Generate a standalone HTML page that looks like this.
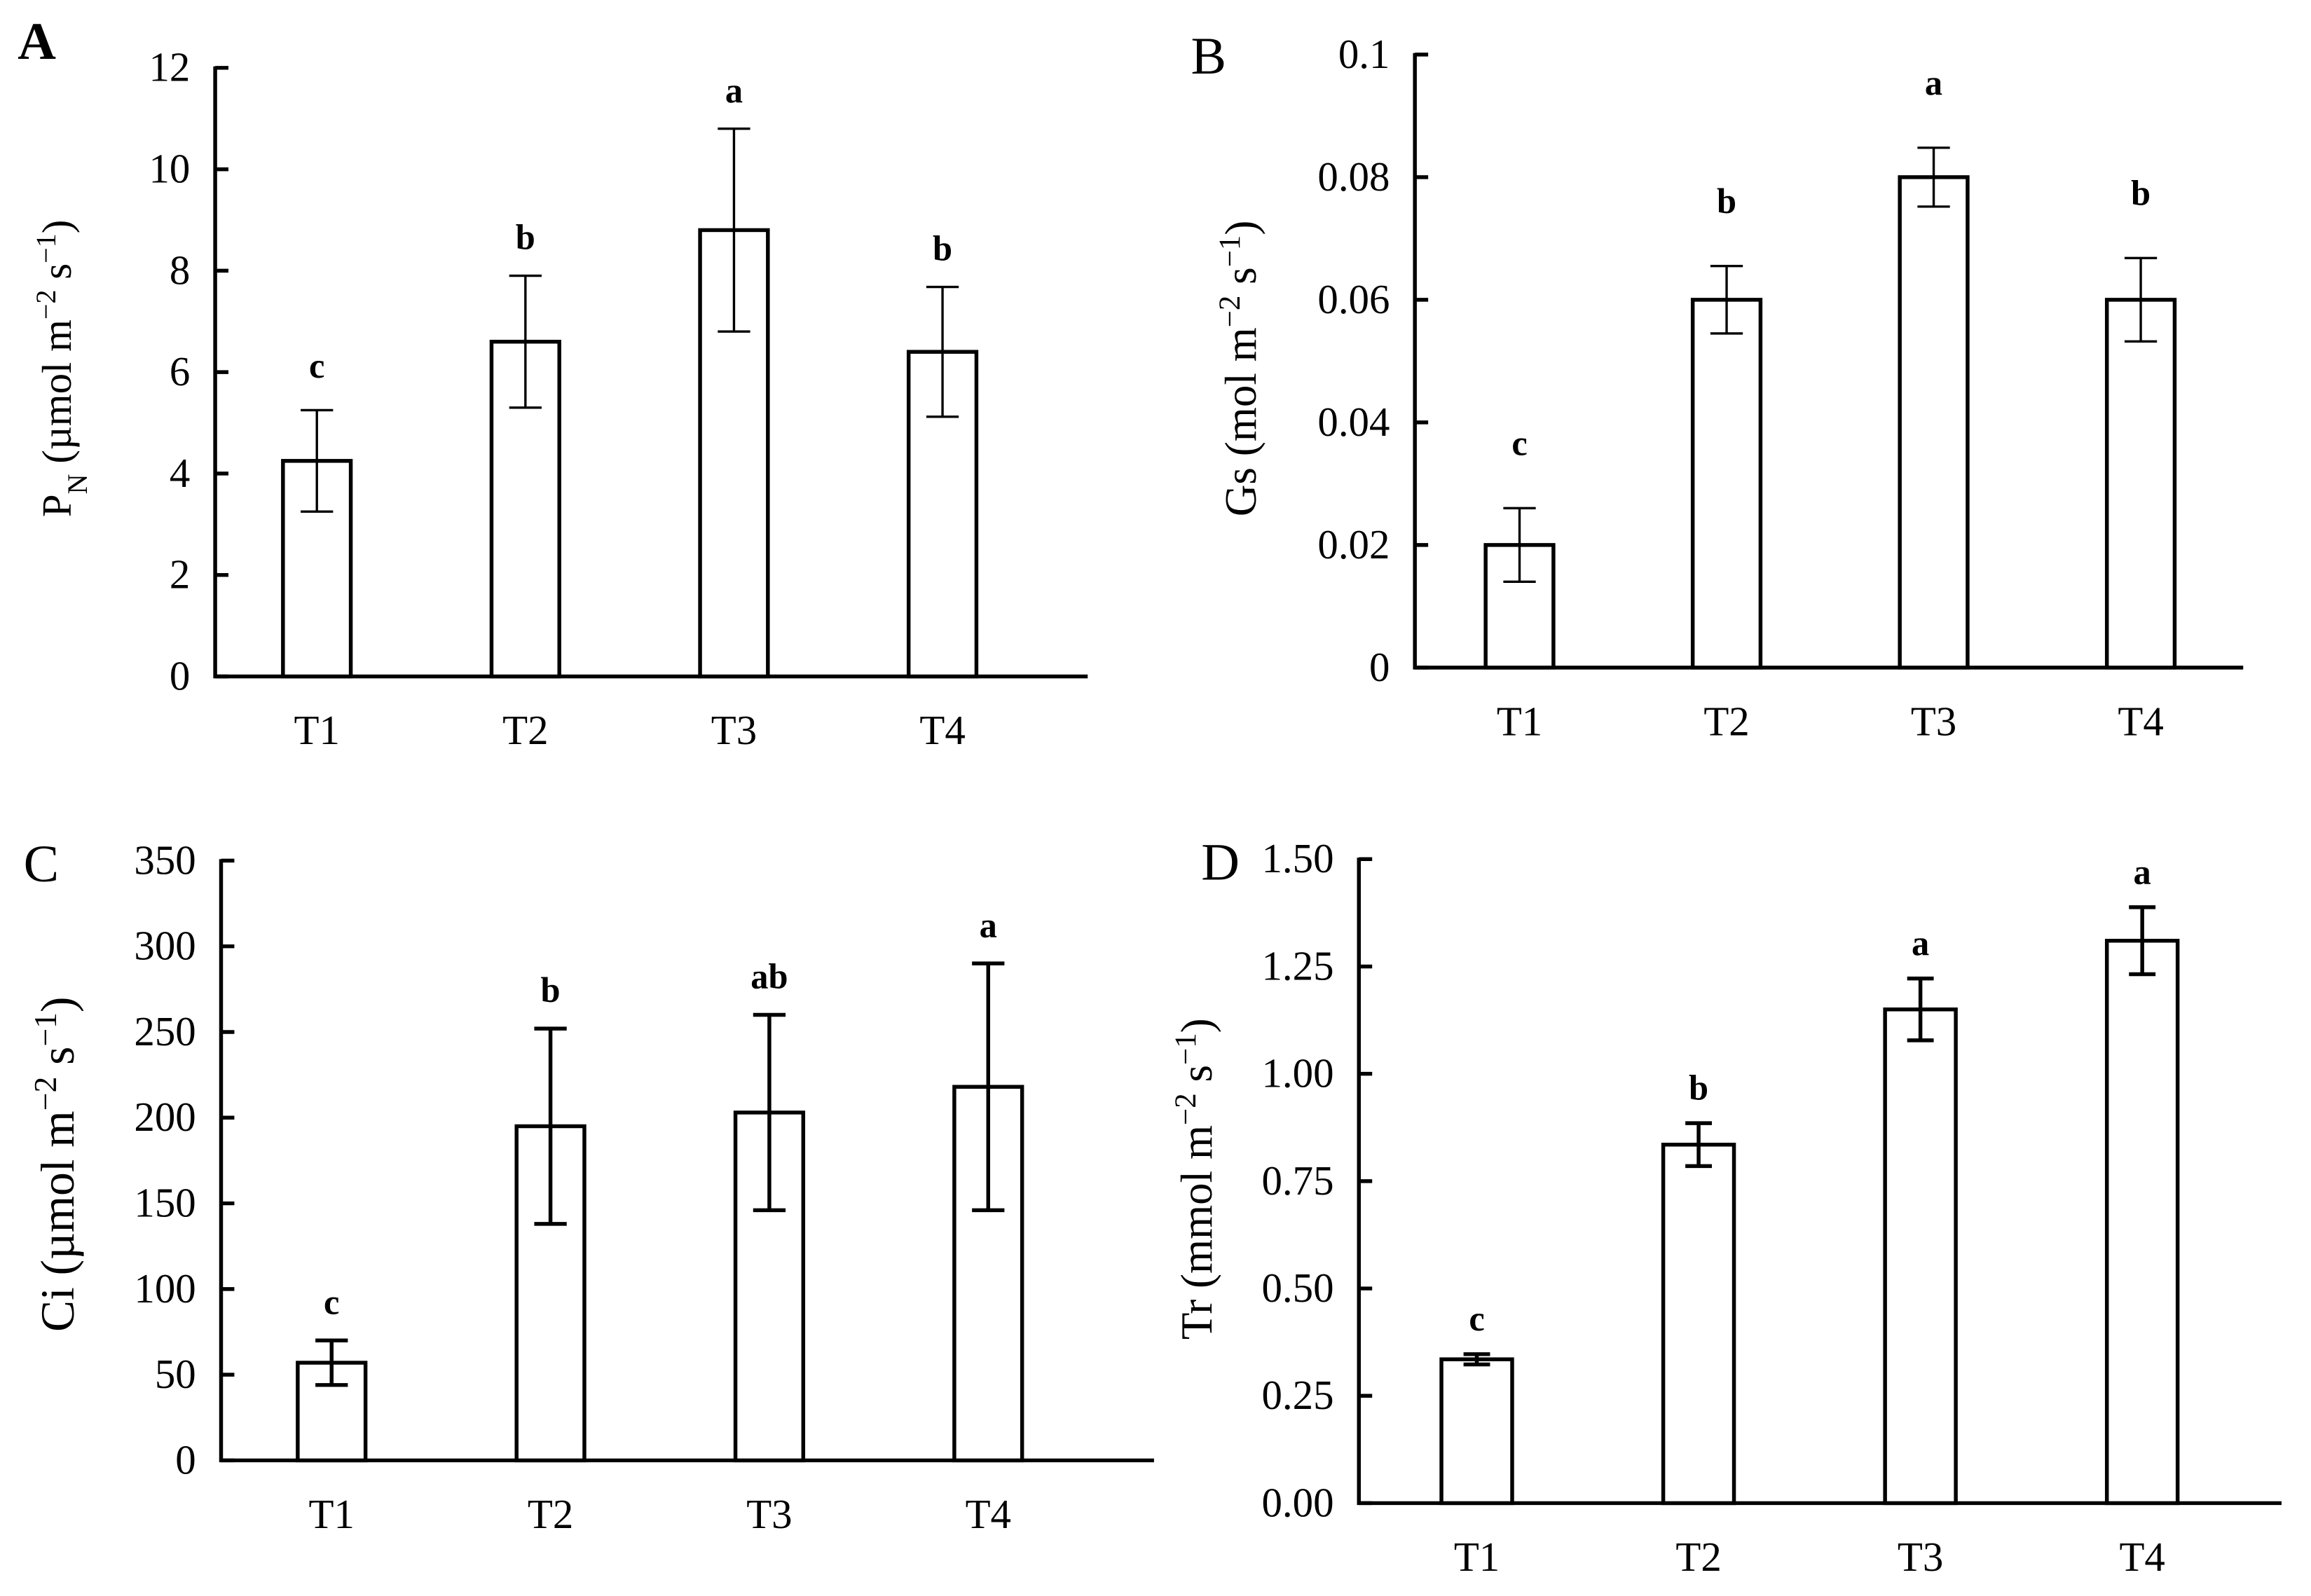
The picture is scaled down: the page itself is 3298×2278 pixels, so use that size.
<!DOCTYPE html>
<html><head><meta charset="utf-8"><style>
html,body{margin:0;padding:0;background:#fff}
svg{display:block}
text{font-family:"Liberation Serif",serif;fill:#000}
</style></head><body>
<svg id="fig" xmlns="http://www.w3.org/2000/svg" width="3298" height="2278" viewBox="0 0 1568 1083"></svg>
<script>
const categories = ["T1","T2","T3","T4"];
// Panel A: PN
const pnValues = [4.25, 6.6, 8.8, 6.4];
const pnErrors = [1.0, 1.3, 2.0, 1.28];
const pnLetters = ["c","b","a","b"];
const pnTicks = ["0","2","4","6","8","10","12"];
// Panel B: Gs
const gsValues = [0.02, 0.06, 0.08, 0.06];
const gsErrors = [0.006, 0.0055, 0.0048, 0.0068];
const gsLetters = ["c","b","a","b"];
const gsTicks = ["0","0.02","0.04","0.06","0.08","0.1"];
// Panel C: Ci
const ciValues = [57, 195, 203, 218];
const ciErrors = [13, 57, 57, 72];
const ciLetters = ["c","b","ab","a"];
const ciTicks = ["0","50","100","150","200","250","300","350"];
// Panel D: Tr
const trValues = [0.335, 0.835, 1.15, 1.31];
const trErrors = [0.012, 0.05, 0.072, 0.078];
const trLetters = ["c","b","a","a"];
const trTicks = ["0.00","0.25","0.50","0.75","1.00","1.25","1.50"];

const NS = "http://www.w3.org/2000/svg";
const svg = document.getElementById("fig");
function el(tag, attrs, parent, txt){
  const e = document.createElementNS(NS, tag);
  for (const k in attrs) e.setAttribute(k, attrs[k]);
  if (txt !== undefined) e.textContent = txt;
  (parent || svg).appendChild(e);
  return e;
}

function panel(cfg){
  const g = el("g", {});
  
  
  const tmax = parseFloat(cfg.ticks[cfg.ticks.length-1]);
  const y = v => cfg.y0 - (v / tmax) * (cfg.y0 - cfg.yTop);
  const x = i => cfg.xFirst + i * cfg.xStep;
  const L = el("text", {x: cfg.lx, y: cfg.ly, "font-size": 36, "font-weight": cfg.lBold ? "bold" : "normal"}, g, cfg.label);
  
  
  const ya = el("line", {x1: cfg.ax, y1: cfg.yTop - 1, x2: cfg.ax, y2: cfg.y0 + 1.2, stroke: "#000", "stroke-width": 2.6}, g);
  
  
  const xa = el("line", {x1: cfg.ax - 1.2, y1: cfg.y0, x2: cfg.xEnd, y2: cfg.y0, stroke: "#000", "stroke-width": 2.6}, g);
  
  
  cfg.ticks.forEach(t => {
    const yy = y(parseFloat(t));
    const tk = el("line", {x1: cfg.ax, y1: yy, x2: cfg.ax + 9, y2: yy, stroke: "#000", "stroke-width": 2.6}, g);
    
    
    const tl = el("text", {x: cfg.ax - 17, y: yy + 9, "font-size": 28, "text-anchor": "end"}, g, t);
    
    
  });
  categories.forEach((c, i) => {
    const cx = x(i);
    const v = cfg.values[i], e = cfg.errors[i];
    const b = el("rect", {x: cx - cfg.bw/2, y: y(v), width: cfg.bw, height: cfg.y0 - y(v), fill: "#fff", stroke: "#000", "stroke-width": 2.6}, g);
    
    
    const eg = el("g", {stroke: "#000", "stroke-width": cfg.ew}, g);
    
    
    el("line", {x1: cx, y1: y(v + e), x2: cx, y2: y(v - e)}, eg);
    el("line", {x1: cx - cfg.cap, y1: y(v + e), x2: cx + cfg.cap, y2: y(v + e)}, eg);
    el("line", {x1: cx - cfg.cap, y1: y(v - e), x2: cx + cfg.cap, y2: y(v - e)}, eg);
    const gap = cfg.letterGap + (i === 0 ? cfg.firstExtra : 0);
    const sl = el("text", {x: cx, y: y(v + e) - gap, "font-size": 24, "font-weight": "bold", "text-anchor": "middle"}, g, cfg.letters[i]);
    
    
    const xl = el("text", {x: cx, y: cfg.y0 + 46, "font-size": 28, "text-anchor": "middle"}, g, c);
    
    
  });
  const t = el("text", {transform: `translate(${cfg.tx},${cfg.ty}) rotate(-90)`, "font-size": cfg.tfs, "text-anchor": "middle"}, g);
  
  
  cfg.title.forEach(p => {
    el("tspan", p.sup ? {"font-size": cfg.tfs*0.68, "baseline-shift": "super"} : p.sub ? {"font-size": cfg.tfs*0.68, "baseline-shift": "sub"} : {}, t, p.t);
  });
}

panel({name:"panel-a-pn", label:"A", lBold:true, lx:12, ly:40, ax:146, yTop:46, y0:459, xEnd:738,
  xFirst:215, xStep:141.5, bw:46, ew:1.6, cap:11, letterGap:18, firstExtra:4,
  values:pnValues, errors:pnErrors, letters:pnLetters, ticks:pnTicks, tx:48, ty:250, tfs:28,
  title:[{t:"P"},{t:"N",sub:true},{t:" (µmol m"},{t:"−2",sup:true},{t:" s"},{t:"−1",sup:true},{t:")"}]});
panel({name:"panel-b-gs", label:"B", lx:808, ly:50, ax:960, yTop:37, y0:453, xEnd:1522,
  xFirst:1031, xStep:140.5, bw:46, ew:1.6, cap:11, letterGap:36, firstExtra:0,
  values:gsValues, errors:gsErrors, letters:gsLetters, ticks:gsTicks, tx:852, ty:250, tfs:30,
  title:[{t:"Gs (mol m"},{t:"−2",sup:true},{t:" s"},{t:"−1",sup:true},{t:")"}]});
panel({name:"panel-c-ci", label:"C", lx:16, ly:598, ax:150, yTop:584, y0:991, xEnd:783,
  xFirst:225, xStep:148.5, bw:46, ew:2.6, cap:11, letterGap:18, firstExtra:0,
  values:ciValues, errors:ciErrors, letters:ciLetters, ticks:ciTicks, tx:50, ty:790, tfs:32,
  title:[{t:"Ci (µmol m"},{t:"−2",sup:true},{t:" s"},{t:"−1",sup:true},{t:")"}]});
panel({name:"panel-d-tr", label:"D", lx:815, ly:597, ax:922, yTop:583, y0:1020, xEnd:1548,
  xFirst:1002, xStep:150.5, bw:48, ew:2.6, cap:9, letterGap:16, firstExtra:0,
  values:trValues, errors:trErrors, letters:trLetters, ticks:trTicks, tx:822, ty:800, tfs:30,
  title:[{t:"Tr (mmol m"},{t:"−2",sup:true},{t:" s"},{t:"−1",sup:true},{t:")"}]});
</script>
</body></html>
